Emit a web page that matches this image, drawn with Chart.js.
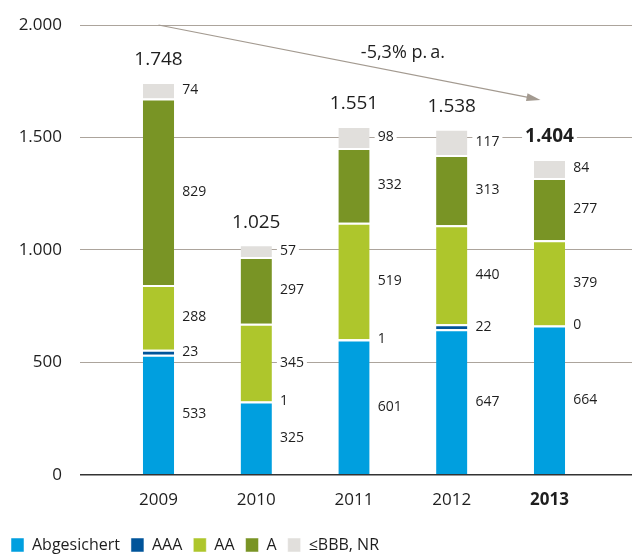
<!DOCTYPE html>
<html>
<head>
<meta charset="utf-8">
<title>Kapitalanlagen nach Rating</title>
<script src="https://cdn.jsdelivr.net/npm/chart.js@4.4.1/dist/chart.umd.min.js"></script>
<style>
  html, body { margin: 0; padding: 0; background: #fff; }
  canvas { display: block; }
</style>
</head>
<body>
<canvas id="chart" width="632" height="554"></canvas>
<script>
// Bestand nach Rating, Mio. €
const years = [2009, 2010, 2011, 2012, 2013];
const abgesichert = [533, 325, 601, 647, 664];
const aaa = [23, 1, 1, 22, 0];
const aa = [288, 345, 519, 440, 379];
const ratingA = [829, 297, 332, 313, 277];
const bbbNr = [74, 57, 98, 117, 84];
const totals = [1748, 1025, 1551, 1538, 1404];
const yTicks = [0, 500, 1000, 1500, 2000];
const trendText = '-5,3% p.\u2009a.';

const FONT = "'Open Sans', 'Noto Sans', sans-serif";
const TEXT = '#1e1e1e';
const GRID = '#aca49c';

Chart.defaults.font.family = FONT;
Chart.defaults.color = TEXT;

// 1748 -> "1.748"
function fmt(n) {
    return String(n).replace(/\B(?=(\d{3})+(?!\d))/g, '.');
}

// text with a white box behind it so grid lines stop at the label
function boxedText(ctx, text, x, y, font, align) {
    ctx.font = font;
    const w = ctx.measureText(text).width;
    const left = align === 'center' ? x - w / 2 : x;
    ctx.fillStyle = '#fff';
    ctx.fillRect(left - 3, y - 8, w + 6, 16);
    ctx.fillStyle = TEXT;
    ctx.textAlign = align;
    ctx.fillText(text, x, y);
}

const valueLabels = {
    id: 'valueLabels',
    afterDatasetsDraw(chart) {
        const ctx = chart.ctx;
        const xs = chart.scales.x;
        const ys = chart.scales.y;
        ctx.save();
        ctx.textBaseline = 'middle';

        // segment values right of each bar
        chart.data.datasets.forEach((ds, di) => {
            chart.getDatasetMeta(di).data.forEach((bar, i) => {
                const cy = (bar.y + bar.base) / 2;
                boxedText(ctx, String(ds.data[i]), bar.x + bar.width / 2 + 8, cy, '14px ' + FONT, 'left');
            });
        });

        // totals above the stacks
        const topMeta = chart.getDatasetMeta(chart.data.datasets.length - 1);
        topMeta.data.forEach((bar, i) => {
            const bold = i === years.length - 1 ? 'bold ' : '';
            boxedText(ctx, fmt(totals[i]), bar.x, bar.y - 22, bold + '19px ' + FONT, 'center');
        });

        // trend arrow 2009 -> 2013
        const x0 = xs.getPixelForValue(years[0]);
        const y0 = ys.getPixelForValue(2000);
        const x1 = xs.getPixelForValue(years[years.length - 1]) - 9;
        const y1 = ys.getPixelForValue(1667);
        const ang = Math.atan2(y1 - y0, x1 - x0);
        ctx.strokeStyle = '#a39a90';
        ctx.fillStyle = '#a39a90';
        ctx.lineWidth = 1.2;
        ctx.beginPath();
        ctx.moveTo(x0, y0);
        ctx.lineTo(x1 - 10 * Math.cos(ang), y1 - 10 * Math.sin(ang));
        ctx.stroke();
        ctx.beginPath();
        ctx.moveTo(x1, y1);
        ctx.lineTo(x1 - 14 * Math.cos(ang) + 4 * Math.sin(ang), y1 - 14 * Math.sin(ang) - 4 * Math.cos(ang));
        ctx.lineTo(x1 - 14 * Math.cos(ang) - 4 * Math.sin(ang), y1 - 14 * Math.sin(ang) + 4 * Math.cos(ang));
        ctx.closePath();
        ctx.fill();

        ctx.font = '18px ' + FONT;
        ctx.fillStyle = TEXT;
        ctx.textAlign = 'center';
        ctx.fillText(trendText, xs.getPixelForValue(2011.5), ys.getPixelForValue(1875));
        ctx.restore();
    }
};

const segment = (label, data, color) => ({
    label,
    data,
    backgroundColor: color,
    borderColor: '#fff',
    borderWidth: { top: 2, right: 0, bottom: 0, left: 0 },
    borderSkipped: false,
    categoryPercentage: 0.8,
    barPercentage: 0.4
});

new Chart(document.getElementById('chart'), {
    type: 'bar',
    data: {
        labels: years,
        datasets: [
            segment('Abgesichert', abgesichert, '#009fdf'),
            segment('AAA', aaa, '#00549a'),
            segment('AA', aa, '#aec62c'),
            segment('A', ratingA, '#799425'),
            segment('\u2264BBB, NR', bbbNr, '#e1dfdc')
        ]
    },
    options: {
        responsive: false,
        animation: false,
        layout: { padding: { top: 25, right: 0, bottom: -9, left: 0 } },
        scales: {
            x: {
                type: 'linear',
                stacked: true,
                offset: false,
                min: 2008.197,
                max: 2013.844,
                afterBuildTicks: (s) => { s.ticks = years.map((v) => ({ value: v })); },
                grid: { display: false, drawTicks: false },
                border: { display: false },
                ticks: {
                    padding: 1,
                    color: TEXT,
                    callback: (v) => String(v),
                    font: (c) => ({ size: 17, lineHeight: 2.9, weight: c.tick && c.tick.value === 2013 ? 'bold' : 'normal' })
                }
            },
            y: {
                stacked: true,
                min: 0,
                max: 2000,
                afterBuildTicks: (s) => { s.ticks = yTicks.map((v) => ({ value: v })); },
                afterFit: (s) => { s.width = 80; },
                grid: {
                    tickLength: 14,
                    tickColor: 'transparent',
                    color: (c) => (c.tick.value === 0 ? '#333' : GRID),
                    lineWidth: (c) => (c.tick.value === 0 ? 1.5 : 1)
                },
                border: { display: false },
                ticks: {
                    padding: 4,
                    color: TEXT,
                    font: { size: 17 },
                    callback: (v) => fmt(v)
                }
            }
        },
        plugins: {
            legend: {
                position: 'bottom',
                align: 'start',
                labels: {
                    boxWidth: 13,
                    boxHeight: 14,
                    padding: 11,
                    color: TEXT,
                    font: { size: 16 }
                }
            },
            tooltip: { enabled: false }
        }
    },
    plugins: [valueLabels]
});
</script>
</body>
</html>
